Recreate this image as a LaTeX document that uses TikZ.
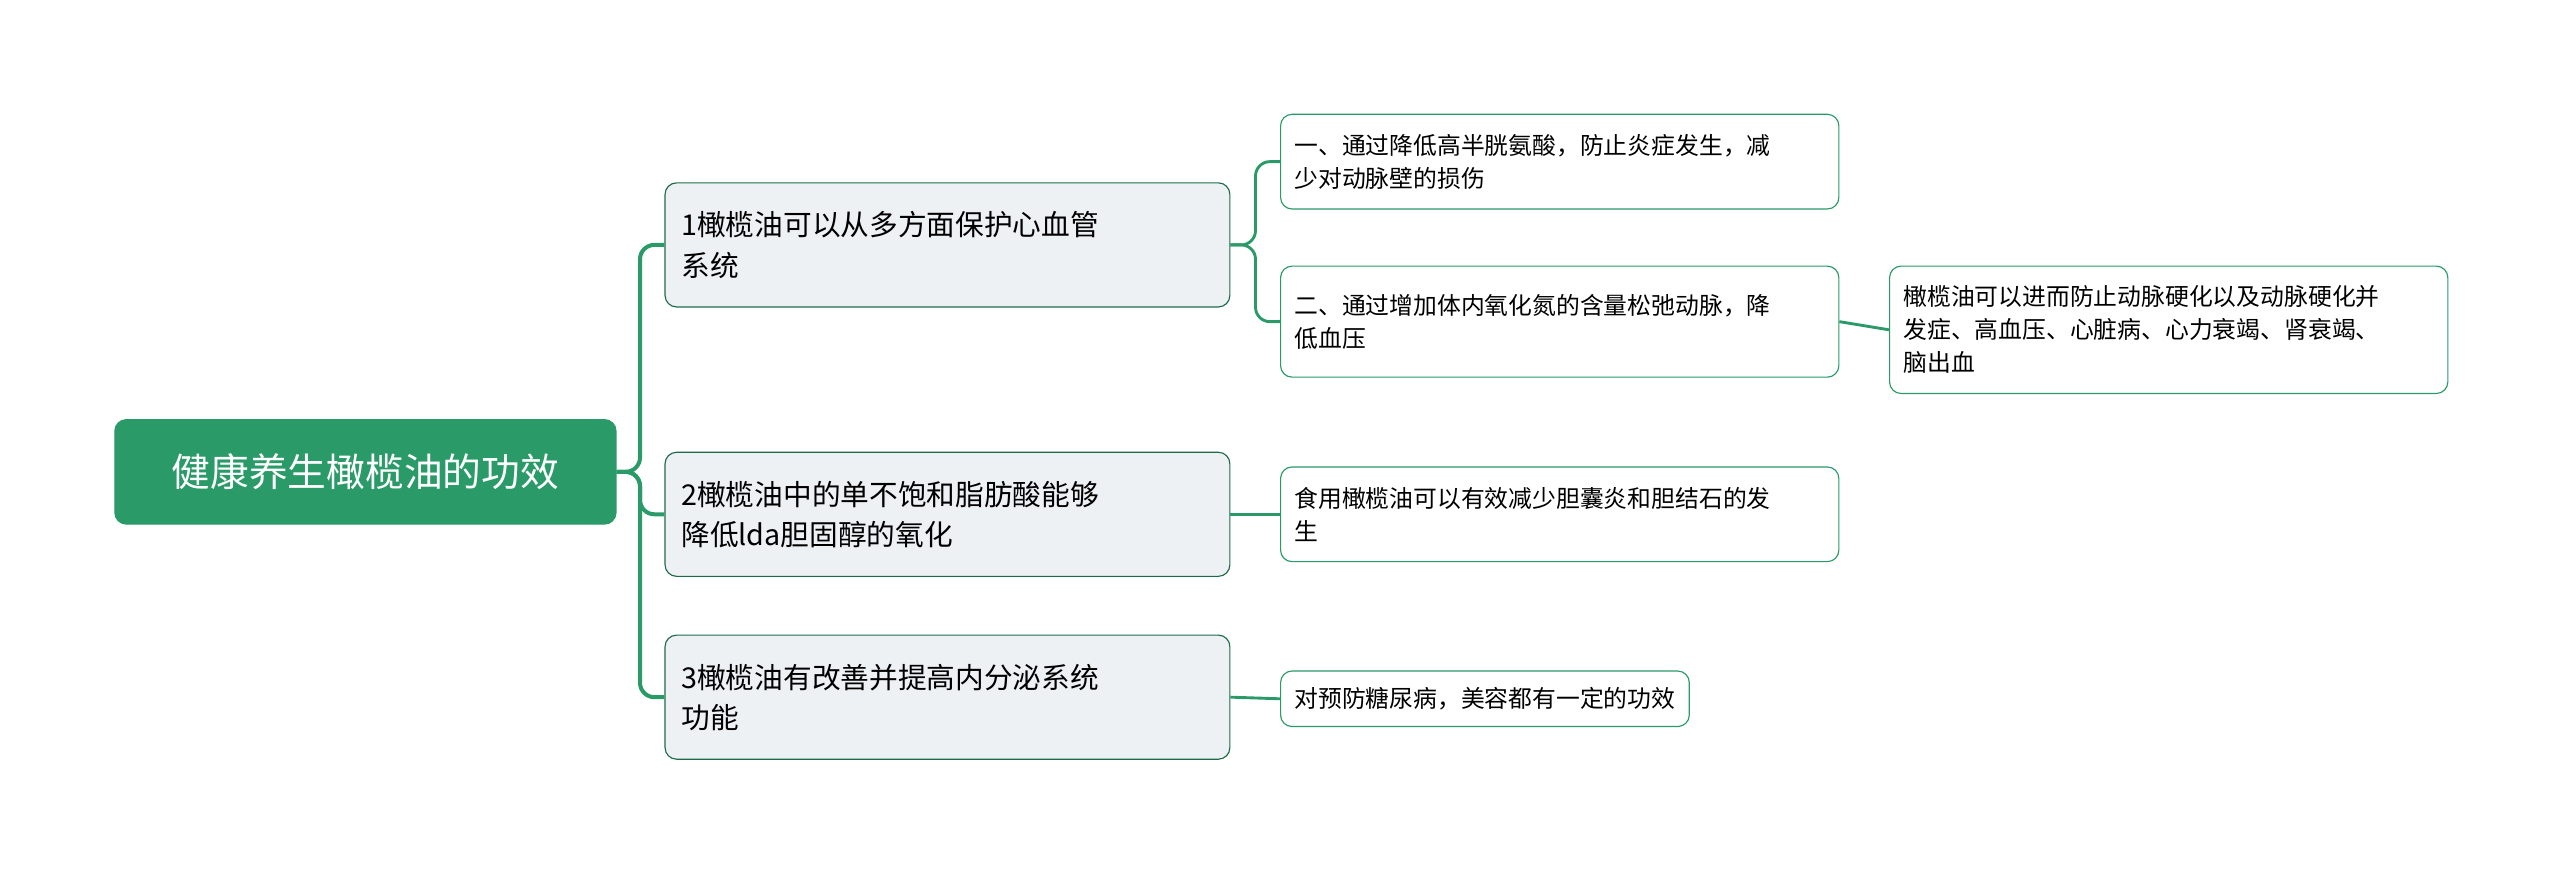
\documentclass[tikz,border=0pt]{standalone}
\usepackage{fontspec}
\setmainfont{Noto Sans CJK SC}
\usetikzlibrary{positioning}
\definecolor{mgreen}{HTML}{2A9A68}
\definecolor{mgray}{HTML}{EEF1F4}
\tikzset{
  rootbox/.style={draw=mgreen, fill=mgreen, text=white, rounded corners=4pt, font=\fontsize{13.5}{16}\selectfont, minimum width=6.14cm, minimum height=1.28cm, anchor=west},
  topicbox/.style={draw=mgreen!70!black, fill=mgray, rounded corners=4pt, font=\fontsize{10}{14}\selectfont, text width=6.52cm, align=left, inner sep=0.2cm, minimum height=1.52cm, anchor=west},
  leafbox/.style={draw=mgreen, fill=white, rounded corners=4pt, font=\fontsize{8.3}{11.5}\selectfont, align=left, inner sep=0.17cm, anchor=west},
  link/.style={draw=mgreen, line width=1.4pt, rounded corners=5pt}
}
\begin{document}
\begin{tikzpicture}[x=0.02cm, y=-0.02cm]
  \useasboundingbox (0,0) rectangle (1568,535);

  \node[rootbox] (root) at (70,289) {健康养生橄榄油的功效};

  \node[topicbox] (t1) at (407,150) {1橄榄油可以从多方面保护心血管\\系统};
  \node[topicbox] (t2) at (407,315) {2橄榄油中的单不饱和脂肪酸能够\\降低lda胆固醇的氧化};
  \node[topicbox] (t3) at (407,427) {3橄榄油有改善并提高内分泌系统\\功能};

  \node[leafbox, text width=6.5cm, minimum height=1.16cm] (a) at (784,99) {一、通过降低高半胱氨酸，防止炎症发生，减\\少对动脉壁的损伤};
  \node[leafbox, text width=6.5cm, minimum height=1.36cm] (b) at (784,197) {二、通过增加体内氧化氮的含量松弛动脉，降\\低血压};
  \node[leafbox, text width=6.5cm, minimum height=1.16cm] (c) at (784,315) {食用橄榄油可以有效减少胆囊炎和胆结石的发\\生};
  \node[leafbox, minimum height=0.68cm] (d) at (784,428) {对预防糖尿病，美容都有一定的功效};
  \node[leafbox, text width=6.5cm, minimum height=1.56cm] (e) at (1157,202) {橄榄油可以进而防止动脉硬化以及动脉硬化并\\发症、高血压、心脏病、心力衰竭、肾衰竭、\\脑出血};

  \draw[link] (root.east) -- (392,289) |- (t1.west);
  \draw[link] (root.east) -- (392,289) |- (t2.west);
  \draw[link] (root.east) -- (392,289) |- (t3.west);
  \draw[link, line width=1pt] (t1.east) -- (769,150) |- (a.west);
  \draw[link, line width=1pt] (t1.east) -- (769,150) |- (b.west);
  \draw[link, line width=1pt] (t2.east) -- (c.west);
  \draw[link, line width=1pt] (t3.east) -- (d.west);
  \draw[link, line width=1pt] (b.east) -- (e.west);
\end{tikzpicture}
\end{document}
